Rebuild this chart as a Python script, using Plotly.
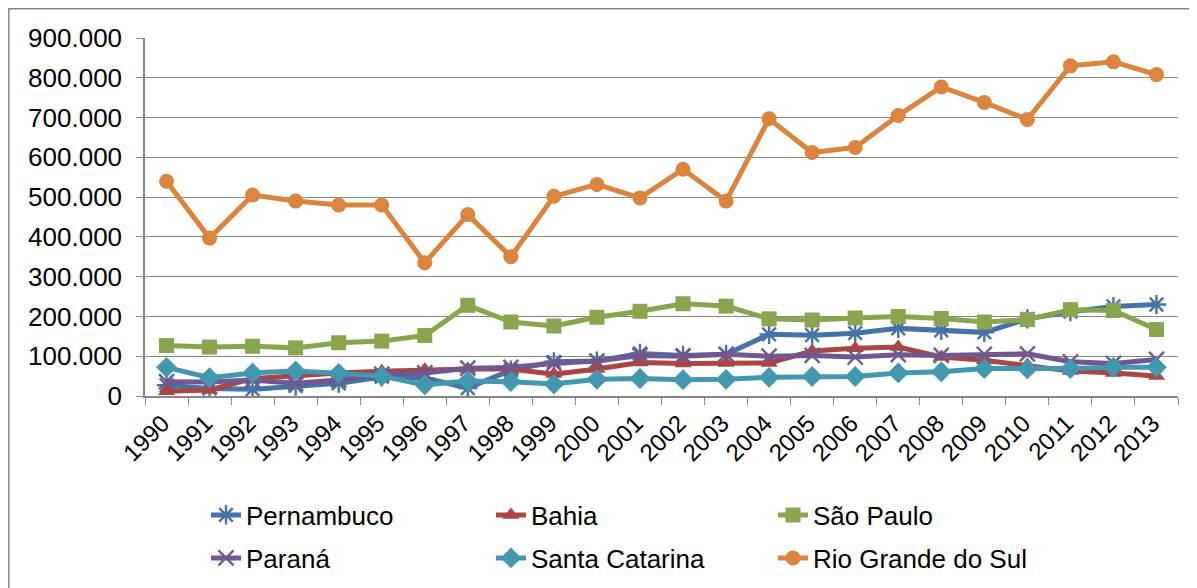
import plotly.graph_objects as go

years = [str(y) for y in range(1990, 2014)]

pernambuco = [27, 19, 17, 25, 32, 48, 45, 20, 65, 86, 88, 107, 102, 105, 155, 153, 158, 170, 165, 160, 194, 212, 225, 230]
bahia = [12, 15, 44, 52, 58, 62, 66, 68, 68, 55, 68, 84, 82, 83, 83, 113, 120, 123, 98, 90, 78, 63, 58, 50]
sao_paulo = [127, 123, 125, 121, 134, 138, 152, 228, 186, 176, 198, 213, 232, 226, 194, 191, 196, 200, 195, 186, 192, 217, 215, 167]
parana = [36, 35, 40, 32, 40, 55, 58, 70, 72, 82, 88, 102, 100, 105, 100, 102, 98, 104, 102, 105, 106, 86, 82, 92]
santa_catarina = [72, 46, 58, 63, 57, 50, 28, 38, 36, 30, 42, 44, 41, 42, 47, 49, 49, 58, 61, 69, 68, 69, 72, 72]
rio_grande_do_sul = [540, 397, 505, 490, 480, 480, 335, 456, 350, 502, 532, 498, 570, 490, 697, 612, 625, 705, 777, 738, 695, 830, 840, 808]

series = [
    ("Pernambuco", pernambuco, "#4572A7", "asterisk-open", 16),
    ("Bahia", bahia, "#AA4643", "triangle-up", 15),
    ("São Paulo", sao_paulo, "#89A54E", "square", 15),
    ("Paraná", parana, "#71588F", "x-thin-open", 15),
    ("Santa Catarina", santa_catarina, "#4198AF", "diamond", 16),
    ("Rio Grande do Sul", rio_grande_do_sul, "#DB843D", "circle", 15),
]

# page is rendered with an 8px body offset; work in screen pixels and convert
OFF = 8
W, H = 1197 - OFF, 588 - OFF
PL, PR, PT, PB = 145, 1178, 38, 396          # plot area in screen pixels
L, T = PL - OFF, PT - OFF
R, B = W - (PR - OFF), H - (PB - OFF)
pw, ph = PR - PL, PB - PT

def px2x(px):
    return (px - PL) / pw

def py2y(py):
    return (PB - py) / ph

font = "Liberation Sans, Arial, sans-serif"

fig = go.Figure()
legend_layouts = {}
text_x = [248, 533, 815]
row_y = [515, 558]
for i, (name, vals, color, symbol, size) in enumerate(series):
    open_sym = symbol.endswith("open")
    leg = "legend" if i == 0 else f"legend{i + 1}"
    fig.add_trace(go.Scatter(
        x=years, y=[v * 1000 for v in vals], name=name, mode="lines+markers",
        line=dict(color=color, width=5),
        marker=dict(symbol=symbol, size=size, color=color,
                    line=dict(color=color, width=2.4 if open_sym else 0)),
        legend=leg, showlegend=True,
    ))
    legend_layouts[leg] = dict(
        visible=True,
        x=px2x(text_x[i % 3] - 42), xanchor="left",
        y=py2y(row_y[i // 3]), yanchor="middle",
        font=dict(size=26, family=font, color="black"),
        bgcolor="rgba(0,0,0,0)", borderwidth=0,
    )

fig.update_layout(
    width=W, height=H,
    margin=dict(l=L, r=R, t=T, b=B, autoexpand=False, pad=0),
    paper_bgcolor="white", plot_bgcolor="white",
    separators=",.",
    showlegend=True,
    font=dict(family=font, color="black"),
    hovermode=False,
    xaxis=dict(
        type="category", range=[-0.5, 23.5], tickson="boundaries", ticks="outside", ticklen=7,
        tickcolor="#868686", showline=True, linecolor="#868686", linewidth=1.5,
        showgrid=False, tickangle=-45, tickfont=dict(size=24, family=font),
        ticklabelstandoff=2, ticklabelshift=-4,
        automargin=False, fixedrange=True,
    ),
    yaxis=dict(
        range=[0, 900000], tickvals=[i * 100000 for i in range(10)], tickformat=",.0f",
        ticks="outside", ticklen=7, tickcolor="#868686",
        showline=True, linecolor="#868686", linewidth=1.5,
        showgrid=True, gridcolor="#868686", gridwidth=1.2,
        tickfont=dict(size=26, family=font), zeroline=False,
        ticklabelstandoff=9, automargin=False, fixedrange=True,
    ),
    shapes=[dict(type="rect", xref="paper", yref="paper",
                 x0=px2x(8.8), x1=px2x(1190), y0=py2y(600), y1=py2y(8.8),
                 line=dict(color="#868686", width=1.5), fillcolor="rgba(0,0,0,0)")],
    **legend_layouts,
)

fig.write_html("out.html")
